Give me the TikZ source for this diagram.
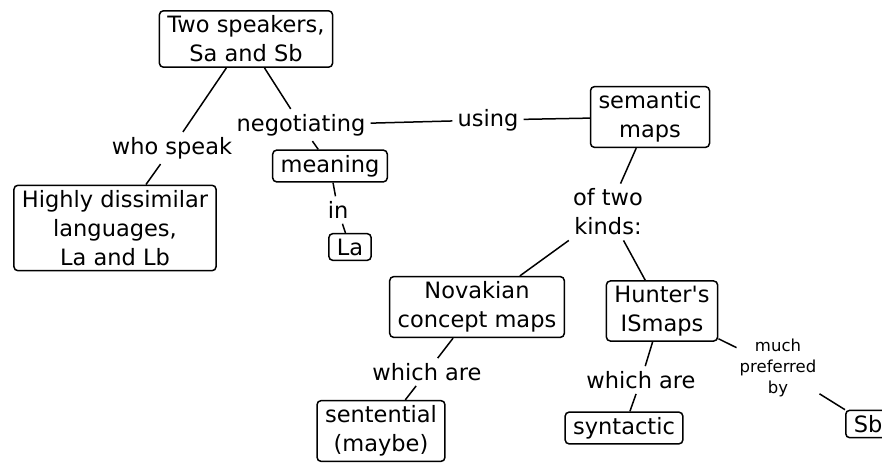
\documentclass[tikz,border=0pt]{standalone}
\usepackage{fontspec}
\setmainfont{DejaVu Sans}
\tikzset{font={\fontsize{22.5pt}{29}\selectfont}}
\usetikzlibrary{
	calc,
	positioning
	}
\tikzstyle{concept}=[draw,rounded corners=4pt,line width=1.5pt,align=center,inner xsep=8pt,inner ysep=5pt]
\tikzstyle{lien}=[align=center,inner sep=5pt]
\tikzstyle{lien-petit}=[lien,inner sep=3pt,font={\fontsize{16.5pt}{21}\selectfont}]
\tikzstyle{trait}=[line width=1.5pt]

\begin{document}
\begin{tikzpicture}[x=1pt,y=-1pt]
            \clip (0,0) rectangle (882,466);
            % concepts
            \node[concept] (c-speakers) at (246,39) {Two speakers,\\Sa and Sb};
            \node[concept] (c-lang) at (115,228) {Highly dissimilar\\languages,\\La and Lb};
            \node[concept] (c-meaning) at (330,166) {meaning};
            \node[concept] (c-la) at (350,247) {La};
            \node[concept] (c-semmaps) at (650,117) {semantic\\maps};
            \node[concept] (c-novak) at (477,307) {Novakian\\concept maps};
            \node[concept] (c-hunter) at (662,311) {Hunter\textquotesingle s\\ISmaps};
            \node[concept] (c-sent) at (381,431) {sentential\\(maybe)};
            \node[concept] (c-synt) at (624,428) {syntactic};
            \node[concept, anchor=west] (c-sb) at (845,424) {Sb};
            %
            % liens
            \node[lien] (l-who) at (172,148) {who speak};
            \node[lien] (l-nego) at (301,125) {negotiating};
            \node[lien] (l-in) at (338,210) {in};
            \node[lien] (l-using) at (488,120) {using};
            \node[lien] (l-kinds) at (608,212) {of two\\kinds:};
            \node[lien] (l-which1) at (427,372) {which are};
            \node[lien] (l-which2) at (641,380) {which are};
            \node[lien-petit] (l-pref) at (778,368) {much\\preferred\\by};
            %
            \draw[trait] (c-speakers) -- (l-who) -- (c-lang);
            \draw[trait] (c-speakers) -- (l-nego) -- (c-meaning) -- (l-in) -- (c-la);
            \draw[trait] (l-nego) -- (l-using) -- (c-semmaps);
            \draw[trait] (c-semmaps) -- (l-kinds);
            \draw[trait] (l-kinds) -- (c-novak);
            \draw[trait] (l-kinds) -- (c-hunter);
            \draw[trait] (c-novak) -- (l-which1) -- (c-sent);
            \draw[trait] (c-hunter) -- (l-which2) -- (c-synt);
            \draw[trait] (c-hunter) -- (l-pref) -- (c-sb);
        \end{tikzpicture}
\end{document}
